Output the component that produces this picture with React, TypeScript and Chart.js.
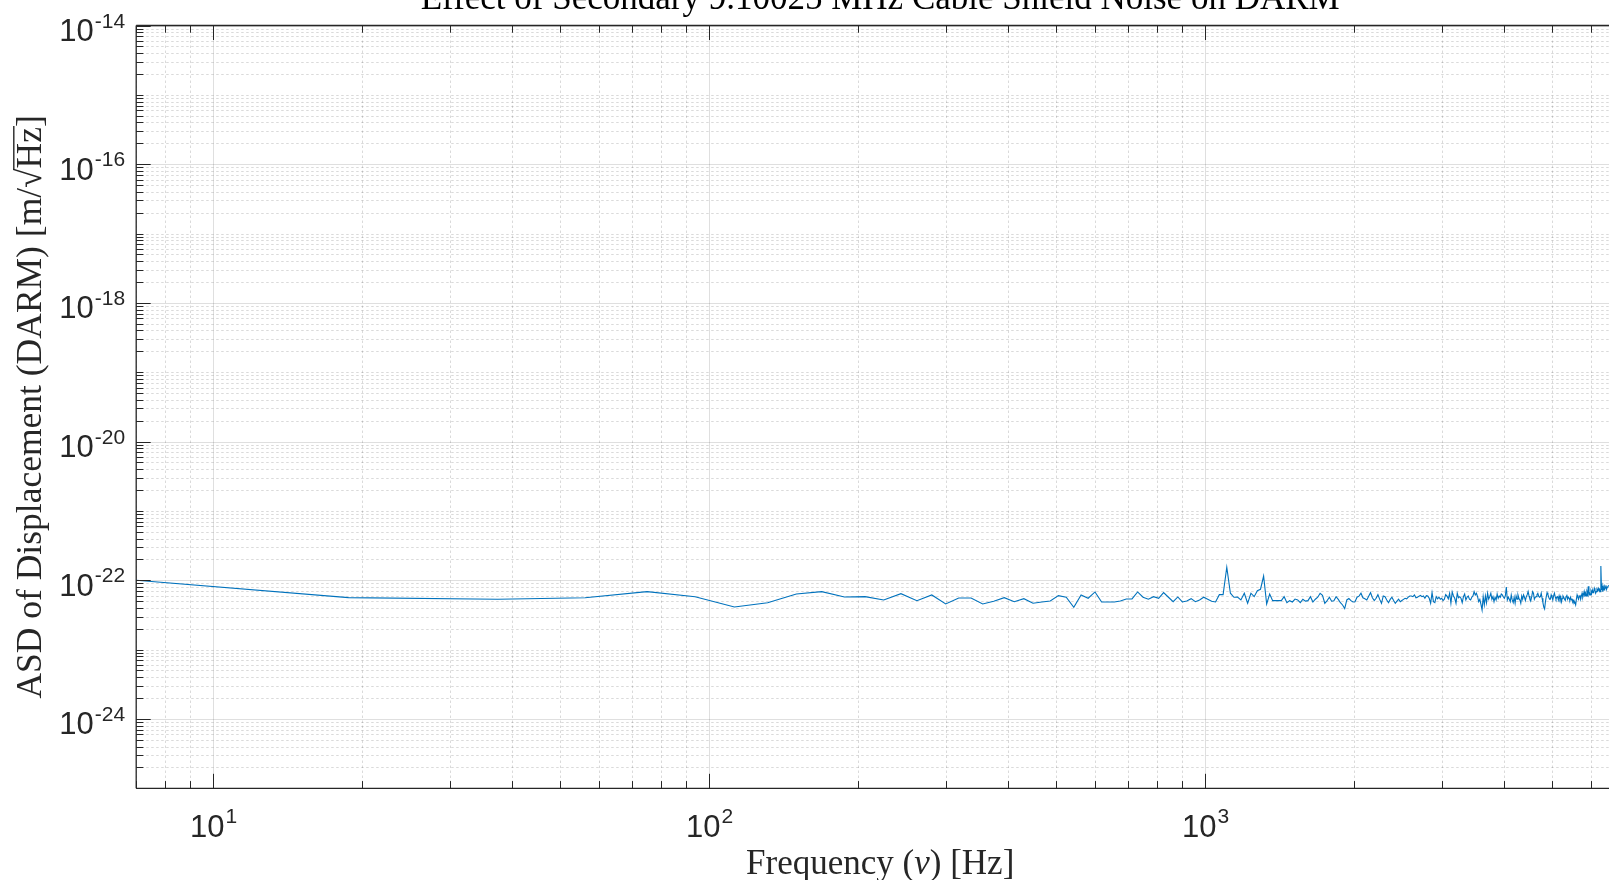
import { useEffect, useRef } from "react";
import { Chart, registerables } from "chart.js";

Chart.register(...registerables);

// ---- data -------------------------------------------------------------
// Spectrum is sampled on a uniform 18.75 Hz frequency grid; the first sample
// shown sits at the left edge of the axis.
const BIN_HZ = 18.75;
const EDGE_HZ = 7;
const EDGE_ASD = 1.0e-22;
const ASD_UNIT = 1e-23; // values below are in units of 1e-23 m/sqrt(Hz)

const asdValues = [
  5.61, 5.32, 5.6, 6.86, 5.8, 4.12, 4.75, 6.34, 6.86, 5.74,
  5.8, 5.2, 6.41, 5.08, 6.14, 4.55, 5.56, 5.56, 4.55, 4.98,
  5.61, 4.91, 5.43, 4.66, 4.87, 5.03, 6.0, 5.69, 4.08, 6.14,
  5.5, 6.78, 4.87, 4.87, 4.87, 5.03, 5.38, 5.38, 6.78, 5.69,
  5.32, 5.8, 5.5, 6.65, 5.69, 4.91, 5.74, 4.87, 5.03, 5.43,
  4.91, 5.2, 5.69, 5.33, 4.98, 4.87, 6.2, 6.2, 15.4, 6.5,
  5.69, 5.74, 5.2, 6.5, 4.66, 6.5, 5.8, 7.08, 7.42, 11.5,
  4.55, 6.34, 5.08, 5.08, 5.08, 5.08, 5.8, 4.75, 5.08, 4.86,
  5.35, 5.2, 4.75, 5.33, 5.0, 5.08, 5.8, 4.86, 5.33, 5.7,
  6.5, 6.08, 4.66, 5.1, 5.69, 4.98, 5.05, 5.8, 5.3, 4.75,
  4.4, 3.9, 5.2, 5.45, 5.08, 4.86, 4.9, 5.69, 5.9, 6.5,
  5.58, 5.4, 5.2, 5.9, 6.63, 5.6, 5.08, 5.5, 6.2, 5.3,
  4.66, 5.94, 5.8, 5.2, 4.75, 5.3, 5.69, 5.1, 4.66, 5.0, 5.33,
  4.91, 5.1, 5.3, 5.5, 5.4, 5.7, 5.94,
  5.94, 5.8, 6.14, 5.6, 5.69, 5.9,
  6.05, 5.8, 5.94, 5.5, 6.0, 5.94, 5.5,
  4.66, 6.63, 4.91, 4.75, 5.8, 5.4, 5.7,
  5.33, 5.5, 5.1, 5.33, 6.2, 5.9, 5.4, 6.5,
  4.66, 6.8, 5.94, 5.5, 4.66, 6.5, 5.6, 5.8,
  5.5, 4.75, 5.8, 6.34, 5.2, 5.69, 5.94, 5.33,
  5.2, 5.69, 5.94, 6.86, 6.14, 6.5, 5.8, 4.91, 5.3,
  4.5, 3.73, 5.8, 4.4, 5.94, 4.75, 6.5, 5.33, 5.8,
  6.5, 5.33, 5.8, 4.91, 5.69, 5.2, 6.34, 5.5, 5.94, 5.69,
  6.34, 6.14, 5.8, 5.5, 5.94, 8.0, 5.2, 5.69, 5.33,
  4.91, 6.14, 5.2, 4.75, 5.69, 4.66, 5.94, 5.33, 6.14, 5.5, 5.2,
  4.66, 5.94, 5.33, 6.14, 5.69, 5.1, 5.8, 6.2, 6.86, 5.94, 5.33,
  5.1, 5.8, 6.86, 6.5, 5.33, 5.69, 5.8, 6.2, 6.5, 5.9, 5.69,
  5.8, 6.5, 5.5, 4.75, 4.1, 3.85, 4.91, 5.8, 6.63, 6.2, 5.69, 5.33,
  5.33, 6.14, 5.69, 5.2, 5.94, 6.5, 5.8, 5.33, 5.69, 5.8, 5.2, 5.94, 5.33,
  5.8, 4.91, 5.5, 5.94, 5.69, 5.33, 5.1, 5.8, 6.2, 5.33, 5.69, 5.5, 5.2,
  5.69, 5.2, 5.33, 4.91, 5.1, 4.66, 4.75, 4.4, 5.33, 6.14, 5.69, 5.33, 5.8, 6.14,
  5.33, 5.94, 6.5, 5.69, 6.2, 6.86, 5.8, 6.5, 5.94, 6.86, 6.34, 8.2, 6.14, 6.5,
  6.14, 7.0, 6.5, 7.25, 6.63, 6.86, 7.67, 7.1, 6.5, 6.86, 7.42, 7.1, 7.67, 7.25, 7.42,
  6.86, 16.1, 7.25, 8.28, 6.86, 7.93, 7.25, 8.1, 7.67, 8.47, 7.42, 7.93, 8.1, 8.28, 8.47,
];

// ---- axes -------------------------------------------------------------
const X_MIN = 7;
const X_MAX = 7000;
const Y_MIN = 1e-25;
const Y_MAX = 1e-14;
const xLabelExponents = [1, 2, 3];
const yLabelExponents = [-14, -16, -18, -20, -22, -24];

const TITLE = "Effect of Secondary 9.10025 MHz Cable Shield Noise on DARM";
const X_LABEL_PRE = "Frequency (";
const X_LABEL_SYM = "\u03bd";
const X_LABEL_POST = ") [Hz]";
const Y_LABEL_PRE = "ASD of Displacement (DARM) [m/";
const Y_LABEL_ROOT = "Hz";
const Y_LABEL_POST = "]";

// ---- layout / style ---------------------------------------------------
const CANVAS_W = 1640;
const CANVAS_H = 880;
const AREA_LEFT = 136.2;
const AREA_RIGHT = 1624.2;
const AREA_TOP = 25.5;
const AREA_BOTTOM = 788.3;

const AXIS_COLOR = "#262626";
const LINE_COLOR = "#0072BD";
const SERIF = '"Liberation Serif", "Times New Roman", serif';
const SANS = '"Liberation Sans", Arial, sans-serif';

type Tick = { v: number; major: boolean };

function logTicks(min: number, max: number, majorExps: number[]): Tick[] {
  const out: Tick[] = [];
  const e0 = Math.floor(Math.log10(min));
  const e1 = Math.ceil(Math.log10(max));
  for (let e = e0; e <= e1; e++) {
    for (let m = 1; m <= 9; m++) {
      const v = m * Math.pow(10, e);
      if (v < min * 0.9999 || v > max * 1.0001) continue;
      out.push({ v, major: m === 1 && majorExps.includes(e) });
    }
  }
  return out;
}

const matlabAxes = {
  id: "matlabAxes",
  beforeDatasetsDraw(chart: any) {
    const { ctx, chartArea: a, scales } = chart;
    const xs = scales.x;
    const ys = scales.y;
    const xt = logTicks(X_MIN, X_MAX, xLabelExponents);
    const yt = logTicks(Y_MIN, Y_MAX, yLabelExponents);
    ctx.save();
    ctx.beginPath();
    ctx.rect(a.left, a.top, a.right - a.left, a.bottom - a.top);
    ctx.clip();
    ctx.lineWidth = 1;
    // minor grid (dotted)
    ctx.setLineDash([2.5, 2.5]);
    ctx.strokeStyle = "rgba(38,38,38,0.17)";
    ctx.beginPath();
    for (const t of xt) {
      if (t.major) continue;
      const px = Math.round(xs.getPixelForValue(t.v)) + 0.5;
      ctx.moveTo(px, a.top);
      ctx.lineTo(px, a.bottom);
    }
    for (const t of yt) {
      if (t.major) continue;
      const py = Math.round(ys.getPixelForValue(t.v)) + 0.5;
      ctx.moveTo(a.left, py);
      ctx.lineTo(a.right, py);
    }
    ctx.stroke();
    // major grid (solid)
    ctx.setLineDash([]);
    ctx.strokeStyle = "rgba(38,38,38,0.15)";
    ctx.beginPath();
    for (const t of xt) {
      if (!t.major) continue;
      const px = Math.round(xs.getPixelForValue(t.v)) + 0.5;
      ctx.moveTo(px, a.top);
      ctx.lineTo(px, a.bottom);
    }
    for (const t of yt) {
      if (!t.major) continue;
      const py = Math.round(ys.getPixelForValue(t.v)) + 0.5;
      ctx.moveTo(a.left, py);
      ctx.lineTo(a.right, py);
    }
    ctx.stroke();
    ctx.restore();
  },
  afterDatasetsDraw(chart: any) {
    const { ctx, chartArea: a, scales } = chart;
    const xs = scales.x;
    const ys = scales.y;
    const xt = logTicks(X_MIN, X_MAX, xLabelExponents);
    const yt = logTicks(Y_MIN, Y_MAX, yLabelExponents);
    const majorLen = 14.5;
    const minorLen = 7.2;
    ctx.save();
    ctx.strokeStyle = AXIS_COLOR;
    ctx.lineWidth = 1.3;
    ctx.setLineDash([]);
    // box
    ctx.beginPath();
    ctx.moveTo(a.left, a.top);
    ctx.lineTo(a.right, a.top);
    ctx.moveTo(a.left, a.bottom);
    ctx.lineTo(a.right, a.bottom);
    ctx.moveTo(a.left, a.top);
    ctx.lineTo(a.left, a.bottom);
    ctx.moveTo(a.right, a.top);
    ctx.lineTo(a.right, a.bottom);
    ctx.stroke();
    // inward ticks on all four sides
    ctx.lineWidth = 1;
    ctx.beginPath();
    for (const t of xt) {
      const px = Math.round(xs.getPixelForValue(t.v)) + 0.5;
      const len = t.major ? majorLen : minorLen;
      ctx.moveTo(px, a.bottom);
      ctx.lineTo(px, a.bottom - len);
      ctx.moveTo(px, a.top);
      ctx.lineTo(px, a.top + len);
    }
    for (const t of yt) {
      const py = Math.round(ys.getPixelForValue(t.v)) + 0.5;
      const len = t.major ? majorLen : minorLen;
      ctx.moveTo(a.left, py);
      ctx.lineTo(a.left + len, py);
      ctx.moveTo(a.right, py);
      ctx.lineTo(a.right - len, py);
    }
    ctx.stroke();

    // tick labels: 10 with a superscript exponent
    ctx.fillStyle = AXIS_COLOR;
    ctx.textBaseline = "alphabetic";
    ctx.textAlign = "left";
    const baseFont = `31px ${SANS}`;
    const supFont = `21px ${SANS}`;
    for (const e of xLabelExponents) {
      const px = xs.getPixelForValue(Math.pow(10, e));
      ctx.font = baseFont;
      const wb = ctx.measureText("10").width;
      ctx.font = supFont;
      const ws = ctx.measureText(String(e)).width;
      const x0 = px - (wb + ws) / 2;
      ctx.font = baseFont;
      ctx.fillText("10", x0, a.bottom + 48.7);
      ctx.font = supFont;
      ctx.fillText(String(e), x0 + wb + 1, a.bottom + 34.3);
    }
    for (const e of yLabelExponents) {
      const py = ys.getPixelForValue(Math.pow(10, e));
      const sup = String(e);
      ctx.font = supFont;
      const ws = ctx.measureText(sup).width;
      ctx.font = baseFont;
      const wb = ctx.measureText("10").width;
      const xr = a.left - 11;
      ctx.fillText("10", xr - ws - 1 - wb, py + 15.5);
      ctx.font = supFont;
      ctx.fillText(sup, xr - ws, py + 2);
    }

    const cx = (a.left + a.right) / 2;
    const cy = (a.top + a.bottom) / 2;

    // title
    ctx.fillStyle = "#000000";
    ctx.font = `35px ${SERIF}`;
    ctx.textAlign = "center";
    ctx.fillText(TITLE, cx, 8.5);

    // x label
    ctx.fillStyle = AXIS_COLOR;
    ctx.textAlign = "left";
    const upright = `35px ${SERIF}`;
    const italic = `italic 35px ${SERIF}`;
    ctx.font = upright;
    const w1 = ctx.measureText(X_LABEL_PRE).width;
    const w3 = ctx.measureText(X_LABEL_POST).width;
    ctx.font = italic;
    const w2 = ctx.measureText(X_LABEL_SYM).width;
    let xx = cx - (w1 + w2 + w3) / 2;
    const xb = 874;
    ctx.font = upright;
    ctx.fillText(X_LABEL_PRE, xx, xb);
    xx += w1;
    ctx.font = italic;
    ctx.fillText(X_LABEL_SYM, xx, xb);
    xx += w2;
    ctx.font = upright;
    ctx.fillText(X_LABEL_POST, xx, xb);

    // y label (rotated), with a radical over Hz
    ctx.save();
    ctx.translate(41, cy);
    ctx.rotate(-Math.PI / 2);
    const yFont = `35.5px ${SERIF}`;
    ctx.font = yFont;
    const rootSign = "\u221a";
    const p1 = ctx.measureText(Y_LABEL_PRE).width;
    const p2m = ctx.measureText(rootSign);
    const p2 = p2m.width;
    const p3 = ctx.measureText(Y_LABEL_ROOT).width;
    const p4 = ctx.measureText(Y_LABEL_POST).width;
    let yx = -(p1 + p2 + p3 + p4) / 2;
    ctx.fillText(Y_LABEL_PRE, yx, 0);
    yx += p1;
    ctx.fillText(rootSign, yx, 0);
    const barY = -p2m.actualBoundingBoxAscent + 0.8;
    yx += p2;
    ctx.fillText(Y_LABEL_ROOT, yx, 0);
    ctx.lineWidth = 1.4;
    ctx.strokeStyle = AXIS_COLOR;
    ctx.beginPath();
    ctx.moveTo(yx - 1.5, barY);
    ctx.lineTo(yx + p3 + 1, barY);
    ctx.stroke();
    yx += p3;
    ctx.fillText(Y_LABEL_POST, yx, 0);
    ctx.restore();

    ctx.restore();
  },
};

export default function App() {
  const canvasRef = useRef<HTMLCanvasElement | null>(null);

  useEffect(() => {
    const canvas = canvasRef.current;
    if (!canvas) return;
    const points = [{ x: EDGE_HZ, y: EDGE_ASD }].concat(
      asdValues.map((v, i) => ({ x: (i + 1) * BIN_HZ, y: v * ASD_UNIT }))
    );
    const chart = new Chart(canvas, {
      type: "line",
      data: {
        datasets: [
          {
            data: points,
            borderColor: LINE_COLOR,
            borderWidth: 1.1,
            pointRadius: 0,
            tension: 0,
            fill: false,
          },
        ],
      },
      options: {
        responsive: false,
        animation: false,
        devicePixelRatio: 1,
        events: [],
        layout: {
          padding: {
            left: AREA_LEFT,
            right: CANVAS_W - AREA_RIGHT,
            top: AREA_TOP,
            bottom: CANVAS_H - AREA_BOTTOM,
          },
        },
        plugins: {
          legend: { display: false },
          tooltip: { enabled: false },
          title: { display: false },
        },
        scales: {
          x: { type: "logarithmic", min: X_MIN, max: X_MAX, display: false },
          y: { type: "logarithmic", min: Y_MIN, max: Y_MAX, display: false },
        },
      },
      plugins: [matlabAxes],
    } as any);
    return () => chart.destroy();
  }, []);

  return (
    <div
      style={{
        position: "fixed",
        left: 0,
        top: 0,
        width: 1609,
        height: 880,
        overflow: "hidden",
        background: "#ffffff",
      }}
    >
      <canvas
        ref={canvasRef}
        width={CANVAS_W}
        height={CANVAS_H}
        style={{ display: "block", width: CANVAS_W, height: CANVAS_H }}
      />
    </div>
  );
}
